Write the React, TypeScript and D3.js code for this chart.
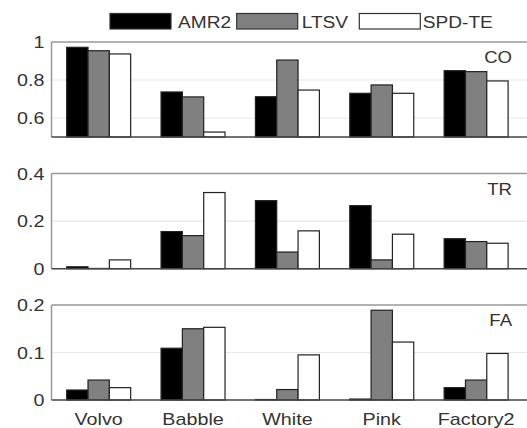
import React from "react";
import * as d3 from "d3";

const categories = ["Volvo", "Babble", "White", "Pink", "Factory2"];
const seriesNames = ["AMR2", "LTSV", "SPD-TE"];
const seriesColors = ["#000000", "#808080", "#ffffff"];

// CO panel
const coAMR2 = [0.972, 0.737, 0.712, 0.73, 0.849];
const coLTSV = [0.954, 0.711, 0.905, 0.774, 0.844];
const coSPD = [0.937, 0.526, 0.747, 0.73, 0.795];
// TR panel
const trAMR2 = [0.008, 0.156, 0.286, 0.265, 0.126];
const trLTSV = [0.001, 0.139, 0.07, 0.037, 0.114];
const trSPD = [0.037, 0.32, 0.159, 0.145, 0.107];
// FA panel
const faAMR2 = [0.021, 0.109, 0.001, 0.002, 0.026];
const faLTSV = [0.042, 0.15, 0.022, 0.189, 0.042];
const faSPD = [0.026, 0.153, 0.095, 0.122, 0.098];

const coTicks = [0.6, 0.8, 1];
const trTicks = [0, 0.2, 0.4];
const faTicks = [0, 0.1, 0.2];

const panels = [
  { name: "CO", domain: [0.5, 1], ticks: coTicks, data: [coAMR2, coLTSV, coSPD], top: 42, bottom: 137 },
  { name: "TR", domain: [0, 0.4], ticks: trTicks, data: [trAMR2, trLTSV, trSPD], top: 173.5, bottom: 268.7 },
  { name: "FA", domain: [0, 0.2], ticks: faTicks, data: [faAMR2, faLTSV, faSPD], top: 305, bottom: 400 },
];

const W = 527, H = 428;
const left = 51.5, right = 523.3;
const font = "'Liberation Sans', Arial, sans-serif";
const txt = "#333";
const SX = 1.16;

function T(props: { x: number; y: number; size: number; anchor?: string; children: any }) {
  return (
    <text
      transform={`translate(${props.x},${props.y}) scale(${SX},1)`}
      textAnchor={props.anchor || "start"}
      fontSize={props.size}
      fontFamily={font}
      fill={txt}
    >
      {props.children}
    </text>
  );
}

export default function App() {
  const x = d3.scaleBand<string>().domain(categories).range([left, right]).paddingInner(0.322).paddingOuter(0.161);
  const xs = d3.scaleBand<string>().domain(seriesNames).range([0, x.bandwidth()]);

  const legendBoxes = [110, 236.7, 359.3];
  const legendText = [178, 301.7, 422.7];

  return (
    <svg width={W} height={H} style={{ position: "absolute", left: 0, top: 0, background: "#fff" }}>
      {/* legend */}
      {seriesNames.map((s, i) => (
        <g key={s}>
          <rect x={legendBoxes[i]} y={13.5} width={61} height={15.5} fill={seriesColors[i]} stroke="#333" strokeWidth={1.2} />
          <T x={legendText[i]} y={27.5} size={16.5}>{s}</T>
        </g>
      ))}
      {panels.map((p) => {
        const y = d3.scaleLinear().domain(p.domain).range([p.bottom, p.top]);
        return (
          <g key={p.name}>
            {p.ticks.map((t) => (
              <g key={t}>
                {t > p.domain[0] && t < p.domain[1] && (
                  <line x1={left} x2={W + 5} y1={y(t)} y2={y(t)} stroke="#e8e8e8" strokeWidth={1.2} />
                )}
                <T x={44.5} y={y(t) + 6} size={17} anchor="end">{String(t)}</T>
              </g>
            ))}
            {p.data.map((vals, si) =>
              vals.map((v, ci) => (
                <rect
                  key={`${si}-${ci}`}
                  x={(x(categories[ci]) as number) + (xs(seriesNames[si]) as number)}
                  y={y(v)}
                  width={xs.bandwidth()}
                  height={Math.max(0, y(p.domain[0]) - y(v))}
                  fill={seriesColors[si]}
                  stroke="#222"
                  strokeWidth={1.2}
                />
              ))
            )}
            <line x1={left} x2={W + 5} y1={p.top} y2={p.top} stroke="#999" strokeWidth={1.5} />
            <line x1={left} x2={left} y1={p.top} y2={p.bottom} stroke="#999" strokeWidth={1.5} />
            <line x1={left} x2={W + 5} y1={p.bottom} y2={p.bottom} stroke="#444" strokeWidth={1.5} />
            <T x={512} y={p.top + 21} size={16} anchor="end">{p.name}</T>
          </g>
        );
      })}
      {categories.map((c) => (
        <T key={c} x={(x(c) as number) + x.bandwidth() / 2} y={424.5} size={17} anchor="middle">{c}</T>
      ))}
    </svg>
  );
}
